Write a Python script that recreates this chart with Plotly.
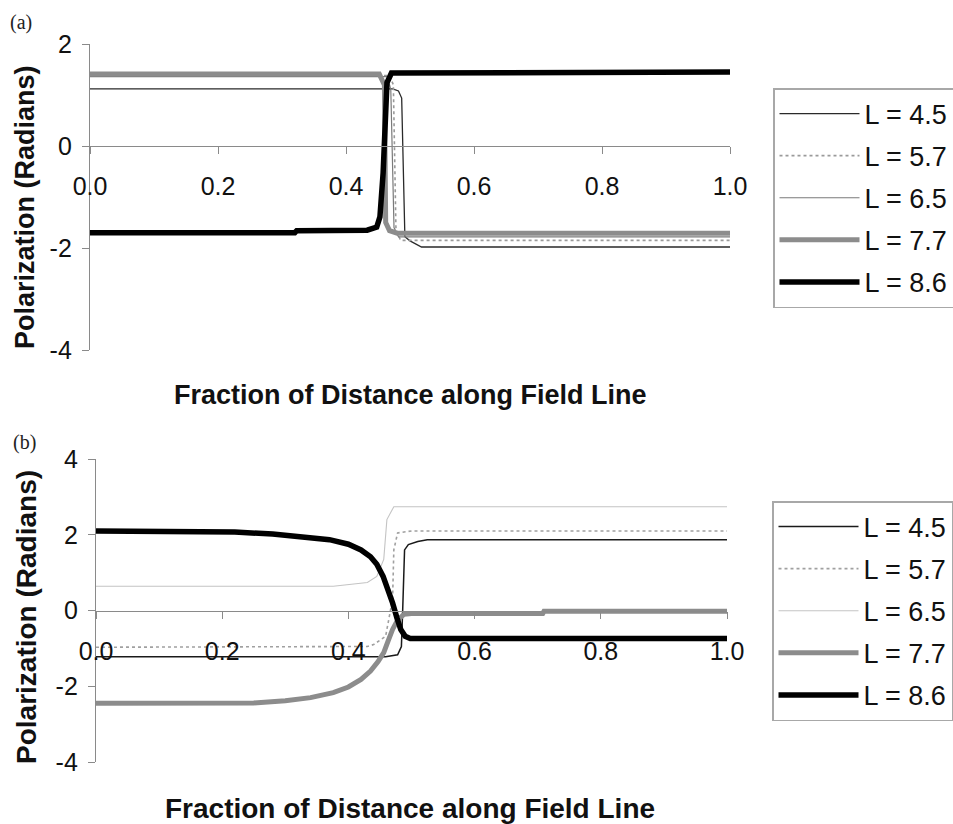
import plotly.graph_objects as go

W, H = 953, 824

# ---------------- data: panel (a) ----------------
xa_45 = [0, 0.473, 0.482, 0.487, 0.492, 0.5, 0.518, 1.0]
ya_45 = [1.12, 1.12, 1.08, 0.94, -1.78, -1.86, -1.98, -1.98]
xa_57 = [0, 0.468, 0.474, 0.478, 0.485, 1.0]
ya_57 = [1.38, 1.38, 1.2, -1.6, -1.85, -1.85]
xa_65 = [0, 0.465, 0.47, 0.475, 0.482, 1.0]
ya_65 = [1.36, 1.36, 1.1, -1.6, -1.78, -1.78]
xa_77 = [0, 0.452, 0.46, 0.462, 0.468, 0.48, 1.0]
ya_77 = [1.41, 1.41, 1.2, -1.5, -1.66, -1.71, -1.71]
xa_86 = [0, 0.32, 0.323, 0.433, 0.448, 0.453, 0.458, 0.464, 0.471, 1.0]
ya_86 = [-1.7, -1.7, -1.66, -1.65, -1.59, -1.39, -0.53, 1.24, 1.43, 1.45]

# ---------------- data: panel (b) ----------------
xb_45 = [0, 0.459, 0.478, 0.484, 0.486, 0.489, 0.495, 0.51, 0.525, 1.0]
yb_45 = [-1.22, -1.22, -1.17, -0.95, 0.0, 1.6, 1.74, 1.82, 1.87, 1.87]
xb_57 = [0, 0.43, 0.44, 0.459, 0.47, 0.472, 0.478, 0.5, 1.0]
yb_57 = [-0.97, -0.95, -0.9, -0.68, 0.3, 1.6, 2.05, 2.1, 2.1]
xb_65 = [0, 0.376, 0.43, 0.445, 0.456, 0.461, 0.472, 0.5, 1.0]
yb_65 = [0.64, 0.64, 0.74, 0.9, 1.35, 2.4, 2.74, 2.74, 2.74]
xb_77 = [0, 0.25, 0.3, 0.34, 0.376, 0.4, 0.42, 0.435, 0.447, 0.456, 0.463, 0.47, 0.478, 0.488,
         0.5, 0.708, 0.71, 1.0]
yb_77 = [-2.45, -2.44, -2.38, -2.3, -2.17, -2.02, -1.82, -1.6, -1.35, -1.11, -0.8, -0.5, -0.25, -0.1,
         -0.08, -0.08, -0.02, -0.02]
xb_86 = [0, 0.15, 0.22, 0.28, 0.33, 0.37, 0.4, 0.42, 0.435, 0.445, 0.455, 0.463, 0.47, 0.477,
         0.483, 0.49, 0.498, 1.0]
yb_86 = [2.1, 2.1, 2.07, 2.02, 1.95, 1.87, 1.75, 1.6, 1.42, 1.22, 0.9, 0.55, 0.2, -0.2,
         -0.5, -0.68, -0.74, -0.74]

labels = ["L = 4.5", "L = 5.7", "L = 6.5", "L = 7.7", "L = 8.6"]
x_ticks = [0.0, 0.2, 0.4, 0.6, 0.8, 1.0]
x_ticktext = ["0.0", "0.2", "0.4", "0.6", "0.8", "1.0"]
ya_ticks = [-4, -2, 0, 2]
ya_ticktext = ["-4", "-2", "0", "2"]
yb_ticks = [-4, -2, 0, 2, 4]
yb_ticktext = ["-4", "-2", "0", "2", "4"]

styles_a = [
    dict(color="#2a2a2a", width=1.3),
    dict(color="#9a9a9a", width=1.6, dash="dot"),
    dict(color="#7a7a7a", width=1.2),
    dict(color="#8c8c8c", width=5),
    dict(color="#000000", width=5.5),
]
styles_b = [
    dict(color="#1a1a1a", width=1.5),
    dict(color="#a0a0a0", width=1.6, dash="dot"),
    dict(color="#c4c4c4", width=1.1),
    dict(color="#8c8c8c", width=5),
    dict(color="#000000", width=5.5),
]

fig = go.Figure()
series_a = [(xa_45, ya_45), (xa_57, ya_57), (xa_65, ya_65), (xa_77, ya_77), (xa_86, ya_86)]
series_b = [(xb_45, yb_45), (xb_57, yb_57), (xb_65, yb_65), (xb_77, yb_77), (xb_86, yb_86)]
for i, (xs, ys) in enumerate(series_a):
    fig.add_trace(go.Scatter(x=xs, y=ys, mode="lines", name=labels[i], line=styles_a[i],
                             xaxis="x", yaxis="y", legend="legend", legendgroup=f"a{i}"))
for i, (xs, ys) in enumerate(series_b):
    fig.add_trace(go.Scatter(x=xs, y=ys, mode="lines", name=labels[i], line=styles_b[i],
                             xaxis="x2", yaxis="y2", legend="legend2", legendgroup=f"b{i}"))

def px_x(p):
    return p / W

def px_y(p):
    return 1 - p / H

axis_common = dict(showgrid=False, zeroline=False, showline=True, linecolor="#8a8a8a", linewidth=1.3,
                   ticks="outside", tickcolor="#8a8a8a", ticklen=7, tickwidth=1.3, automargin=False,
                   tickfont=dict(family="Liberation Sans, Arial", size=25, color="#111"))

legend_common = dict(xanchor="left", yanchor="top", bordercolor="#a8a8a8", borderwidth=1.5,
                     bgcolor="white", itemwidth=80, tracegroupgap=4,
                     font=dict(family="Liberation Sans, Arial", size=27, color="#111"))

fig.update_layout(
    width=W, height=H, margin=dict(l=0, r=0, t=0, b=0, autoexpand=False),
    paper_bgcolor="white", plot_bgcolor="rgba(0,0,0,0)",
    xaxis=dict(domain=[px_x(90), px_x(730)], range=[0, 1], anchor="free", position=px_y(146),
               tickvals=x_ticks, ticktext=x_ticktext, ticklabelstandoff=11, **axis_common),
    yaxis=dict(domain=[px_y(350), px_y(44)], range=[-4, 2], tickvals=ya_ticks, ticktext=ya_ticktext,
               anchor="x", ticklabelstandoff=5, **axis_common),
    xaxis2=dict(domain=[px_x(96), px_x(727)], range=[0, 1], anchor="free", position=px_y(611),
                tickvals=x_ticks, ticktext=x_ticktext, ticklabelstandoff=11, **axis_common),
    yaxis2=dict(domain=[px_y(762), px_y(459)], range=[-4, 4], tickvals=yb_ticks, ticktext=yb_ticktext,
                anchor="x2", ticklabelstandoff=5, **axis_common),
    legend=dict(x=px_x(773), y=px_y(88), **legend_common),
    legend2=dict(x=px_x(772), y=px_y(501), **legend_common),
    showlegend=True,
)

title_font = dict(family="Liberation Sans, Arial", color="#111")
annos = [
    dict(text="(a)", x=px_x(8), y=px_y(9), xanchor="left", yanchor="top",
         font=dict(family="Liberation Serif, Times New Roman", size=20, color="#222")),
    dict(text="(b)", x=px_x(11), y=px_y(429), xanchor="left", yanchor="top",
         font=dict(family="Liberation Serif, Times New Roman", size=20, color="#222")),
    dict(text="<b>Fraction of Distance along Field Line</b>", x=px_x(410), y=px_y(395),
         xanchor="center", yanchor="middle", font=dict(size=27, **title_font)),
    dict(text="<b>Fraction of Distance along Field Line</b>", x=px_x(410), y=px_y(808),
         xanchor="center", yanchor="middle", font=dict(size=28, **title_font)),
    dict(text="<b>Polarization (Radians)</b>", x=px_x(25), y=px_y(207), textangle=-90,
         xanchor="center", yanchor="middle", font=dict(size=27, **title_font)),
    dict(text="<b>Polarization (Radians)</b>", x=px_x(26), y=px_y(617), textangle=-90,
         xanchor="center", yanchor="middle", font=dict(size=28, **title_font)),
]
for a in annos:
    a.update(xref="paper", yref="paper", showarrow=False)
fig.update_layout(annotations=annos)

fig.write_html("out.html")
